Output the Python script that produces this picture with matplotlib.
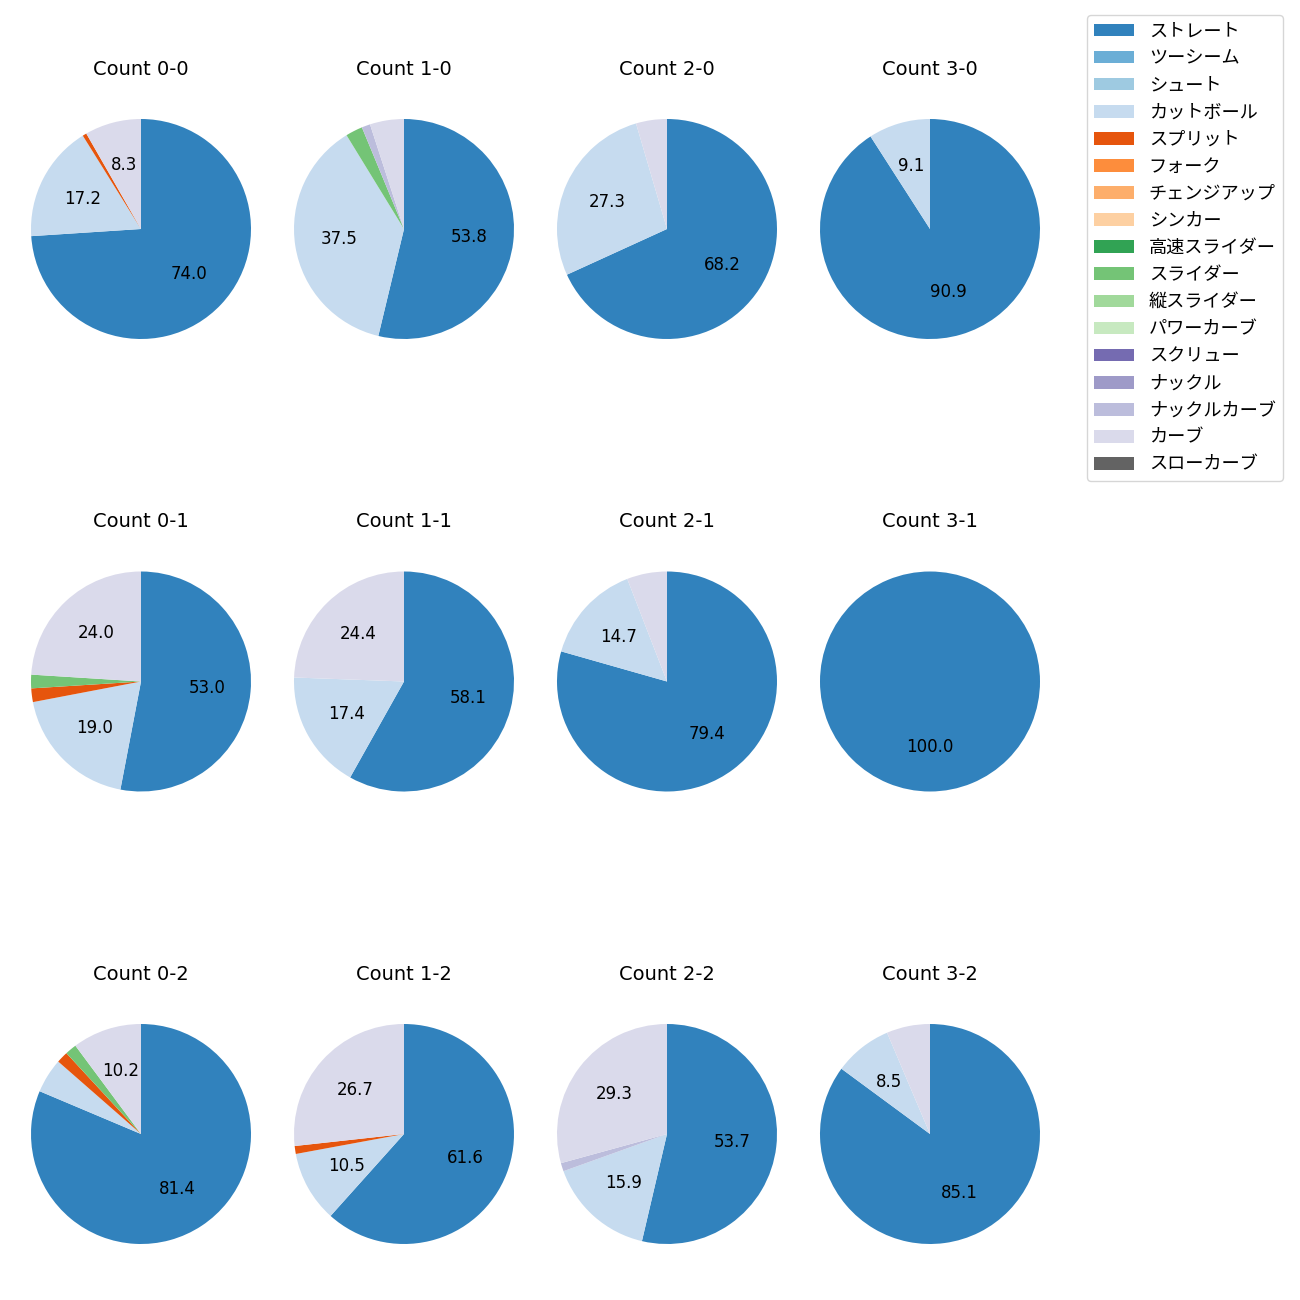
import matplotlib
matplotlib.use('Agg')
import matplotlib.pyplot as plt
from matplotlib.patches import Patch

plt.rcParams['font.family'] = ['DejaVu Sans', 'Noto Sans CJK JP']

# ── pitch types and colours (legend order) ───────────────────────────────────
PITCHES = ['ストレート', 'ツーシーム', 'シュート', 'カットボール', 'スプリット',
           'フォーク', 'チェンジアップ', 'シンカー', '高速スライダー', 'スライダー',
           '縦スライダー', 'パワーカーブ', 'スクリュー', 'ナックル', 'ナックルカーブ',
           'カーブ', 'スローカーブ']
COLORS = ['#3182bd', '#6baed6', '#9ecae1', '#c6dbef', '#e6550d',
          '#fd8d3c', '#fdae6b', '#fdd0a2', '#31a354', '#74c476',
          '#a1d99b', '#c7e9c0', '#756bb1', '#9e9ac8', '#bcbddc',
          '#dadaeb', '#636363']

COUNTS = ['0-0', '1-0', '2-0', '3-0',
          '0-1', '1-1', '2-1', '3-1',
          '0-2', '1-2', '2-2', '3-2']

# pitch counts per ball-strike count (only pitch types that were thrown)
PITCH_N = {
    '0-0': {'ストレート': 125, 'カットボール': 29, 'スプリット': 1, 'カーブ': 14},
    '1-0': {'ストレート': 43, 'カットボール': 30, 'スライダー': 2,
            'ナックルカーブ': 1, 'カーブ': 4},
    '2-0': {'ストレート': 15, 'カットボール': 6, 'カーブ': 1},
    '3-0': {'ストレート': 10, 'カットボール': 1},
    '0-1': {'ストレート': 53, 'カットボール': 19, 'スプリット': 2,
            'スライダー': 2, 'カーブ': 24},
    '1-1': {'ストレート': 50, 'カットボール': 15, 'カーブ': 21},
    '2-1': {'ストレート': 27, 'カットボール': 5, 'カーブ': 2},
    '3-1': {'ストレート': 6},
    '0-2': {'ストレート': 48, 'カットボール': 3, 'スプリット': 1,
            'スライダー': 1, 'カーブ': 6},
    '1-2': {'ストレート': 53, 'カットボール': 9, 'スプリット': 1, 'カーブ': 23},
    '2-2': {'ストレート': 44, 'カットボール': 13, 'ナックルカーブ': 1, 'カーブ': 24},
    '3-2': {'ストレート': 40, 'カットボール': 4, 'カーブ': 3},
}

W, H = 1300, 1300
fig = plt.figure(figsize=(W / 100, H / 100), dpi=100)

AX_SIZE = 275
for i, cnt in enumerate(COUNTS):
    r, c = divmod(i, 4)
    cx = 141 + 263 * c
    cy = 229 + 452.5 * r
    ax = fig.add_axes([(cx - AX_SIZE / 2) / W, 1 - (cy + AX_SIZE / 2) / H,
                       AX_SIZE / W, AX_SIZE / H])
    d = PITCH_N[cnt]
    keys = [p for p in PITCHES if p in d]
    vals = [d[p] for p in keys]
    cols = [COLORS[PITCHES.index(p)] for p in keys]
    ax.pie(vals, colors=cols, startangle=90, counterclock=False,
           autopct=lambda p: f'{p:.1f}' if p > 7 else '',
           textprops={'fontsize': 12})
    ax.set_title(f'Count {cnt}', fontsize=14, pad=12)

handles = [Patch(facecolor=col, label=p) for p, col in zip(PITCHES, COLORS)]
fig.legend(handles=handles, loc='upper right', fontsize=13.1, borderaxespad=0,
           handlelength=2.2, bbox_to_anchor=(1283 / W, 1 - 15 / H))

fig.savefig('out.png', dpi=100)
